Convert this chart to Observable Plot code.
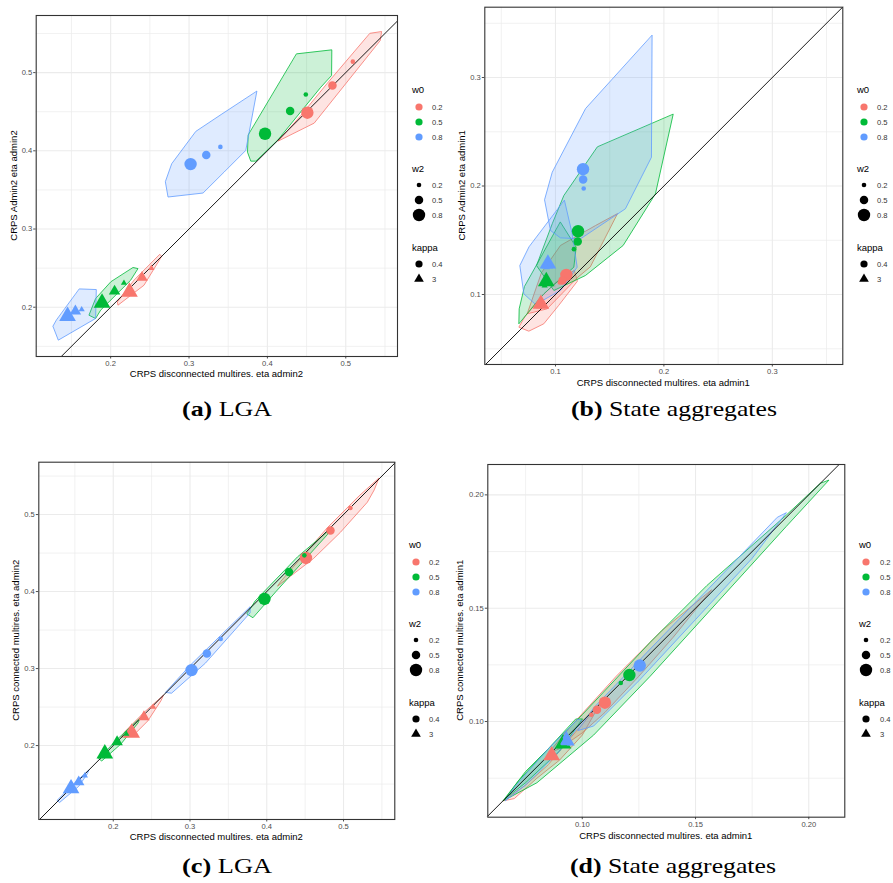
<!DOCTYPE html>
<html><head><meta charset="utf-8">
<script src="https://cdn.jsdelivr.net/npm/d3@7"></script>
<script src="https://cdn.jsdelivr.net/npm/@observablehq/plot@0.6"></script>
<style>
body{margin:0;background:#fff;}
#fig{position:relative;width:893px;height:883px;overflow:hidden;background:#fff;font-family:"Liberation Sans",Arial,sans-serif;}
#fig > svg{position:absolute;}
</style></head><body><div id="fig"></div>
<script>
// ---------- levels ----------
const W0 = ["0.2", "0.5", "0.8"];
const W0_COLORS = ["#F8766D", "#00BA38", "#619CFF"];
const W2 = [0.2, 0.5, 0.8];
const KAPPA = ["0.4", "3"];

// ---------- point factors (18 runs) ----------
const ptW0 = ["0.2","0.2","0.2","0.5","0.5","0.5","0.8","0.8","0.8","0.2","0.2","0.2","0.5","0.5","0.5","0.8","0.8","0.8"];
const ptW2 = [0.2,0.5,0.8,0.2,0.5,0.8,0.2,0.5,0.8,0.2,0.5,0.8,0.2,0.5,0.8,0.2,0.5,0.8];
const ptKappa = ["0.4","0.4","0.4","0.4","0.4","0.4","0.4","0.4","0.4","3","3","3","3","3","3","3","3","3"];

// CRPS disconnected multires (x) at admin2 and admin1
const xAdmin2 = [0.509,0.483,0.451, 0.449,0.429,0.397, 0.340,0.322,0.302, 0.252,0.240,0.224, 0.217,0.205,0.189, 0.163,0.155,0.145];
const xAdmin1 = [0.104,0.1065,0.110, 0.117,0.1205,0.1208, 0.126,0.1255,0.1254, 0.085,0.0855,0.0865, 0.090,0.0912,0.0915, 0.092,0.0925,0.093];
// y values per panel
const yA = [0.514,0.4835,0.4487, 0.472,0.451,0.4218, 0.405,0.3945,0.383, 0.250,0.238,0.2195, 0.231,0.2204,0.2055, 0.197,0.1949,0.1885];
const yB = [0.111,0.1129,0.1181, 0.1418,0.1489,0.1583, 0.1977,0.206,0.2155, 0.089,0.0905,0.0912, 0.108,0.111,0.112, 0.125,0.127,0.1283];
const yC = [0.5086,0.4792,0.4436, 0.447,0.4255,0.3904, 0.3385,0.3195,0.298, 0.250,0.2372,0.2164, 0.215,0.2047,0.1896, 0.161,0.1527,0.1442];
const yD = [0.103,0.1052,0.1083, 0.117,0.1203,0.1205, 0.125,0.1247,0.1247, 0.084,0.0845,0.085, 0.089,0.090,0.0902, 0.0905,0.091,0.0916];

// ---------- hull outlines (w0, kappa, vertices) ----------
const hullsA = [
  {w0:"0.2", kappa:"0.4", pts:[[0.5312,0.5503],[0.5457,0.5525],[0.544,0.541],[0.4597,0.4354],[0.4137,0.4124],[0.4427,0.4452],[0.4759,0.4857]]},
  {w0:"0.2", kappa:"3",   pts:[[0.263,0.2673],[0.2651,0.2651],[0.2425,0.2281],[0.2093,0.2026],[0.2086,0.2068],[0.2298,0.2345]]},
  {w0:"0.5", kappa:"0.4", pts:[[0.4375,0.524],[0.4822,0.5291],[0.4819,0.4963],[0.4682,0.4814],[0.4129,0.4133],[0.3852,0.3868],[0.3788,0.3868],[0.3746,0.3983],[0.3754,0.4197]]},
  {w0:"0.5", kappa:"3",   pts:[[0.229,0.2507],[0.2349,0.2494],[0.2255,0.2345],[0.1872,0.1962],[0.1808,0.1856],[0.1723,0.1898],[0.1808,0.2111],[0.2,0.2323]]},
  {w0:"0.8", kappa:"0.4", pts:[[0.3865,0.4759],[0.3724,0.4005],[0.3448,0.3728],[0.3179,0.346],[0.2732,0.3409],[0.2698,0.3605],[0.2779,0.3835],[0.3086,0.4248],[0.3405,0.4461]]},
  {w0:"0.8", kappa:"3",   pts:[[0.1604,0.2234],[0.1817,0.2226],[0.1808,0.1856],[0.1332,0.1579],[0.1263,0.1757],[0.1306,0.1834]]}
];
const hullsB = [
  {w0:"0.2", kappa:"0.4", pts:[[0.1569,0.1744],[0.137,0.1636],[0.1046,0.1452],[0.087,0.120],[0.0739,0.0822],[0.0923,0.0868],[0.1207,0.116],[0.1318,0.1252]]},
  {w0:"0.2", kappa:"3",   pts:[[0.117,0.122],[0.100,0.111],[0.085,0.096],[0.072,0.080],[0.0662,0.0699],[0.0754,0.0662],[0.0892,0.073],[0.103,0.090],[0.120,0.112]]},
  {w0:"0.5", kappa:"0.4", pts:[[0.2085,0.2659],[0.1922,0.1928],[0.1624,0.1452],[0.1276,0.1175],[0.0985,0.1037],[0.0825,0.1267],[0.097,0.1652],[0.1077,0.1912],[0.1384,0.2358]]},
  {w0:"0.5", kappa:"3",   pts:[[0.1046,0.1666],[0.1191,0.1436],[0.1169,0.1252],[0.0892,0.1006],[0.0662,0.073],[0.0665,0.0868],[0.0714,0.1074],[0.0831,0.1283]]},
  {w0:"0.8", kappa:"0.4", pts:[[0.1891,0.3387],[0.1885,0.2265],[0.1645,0.179],[0.123,0.1513],[0.1046,0.1522],[0.0954,0.159],[0.0899,0.1873],[0.097,0.2127],[0.1276,0.2711]]},
  {w0:"0.8", kappa:"3",   pts:[[0.1083,0.1866],[0.1154,0.156],[0.12,0.1252],[0.1046,0.1037],[0.0816,0.0908],[0.0708,0.1006],[0.0671,0.1267],[0.0754,0.1436]]}
];
const hullsC = [
  {w0:"0.2", kappa:"0.4", pts:[[0.546,0.547],[0.540,0.532],[0.531,0.516],[0.496,0.477],[0.461,0.443],[0.414,0.407],[0.418,0.413],[0.479,0.483],[0.52,0.524]]},
  {w0:"0.2", kappa:"3",   pts:[[0.265,0.265],[0.24,0.243],[0.215,0.218],[0.211,0.211],[0.225,0.212],[0.245,0.232],[0.262,0.258]]},
  {w0:"0.5", kappa:"0.4", pts:[[0.479,0.478],[0.44,0.445],[0.385,0.388],[0.374,0.371],[0.382,0.366],[0.412,0.400],[0.479,0.474]]},
  {w0:"0.5", kappa:"3",   pts:[[0.235,0.236],[0.205,0.208],[0.181,0.183],[0.185,0.180],[0.21,0.202],[0.232,0.229]]},
  {w0:"0.8", kappa:"0.4", pts:[[0.378,0.380],[0.34,0.343],[0.30,0.304],[0.268,0.269],[0.276,0.268],[0.32,0.307],[0.378,0.372]]},
  {w0:"0.8", kappa:"3",   pts:[[0.168,0.168],[0.15,0.152],[0.127,0.129],[0.13,0.126],[0.155,0.147],[0.166,0.163]]}
];
const hullsD = [
  {w0:"0.2", kappa:"0.4", pts:[[0.157,0.158],[0.14,0.137],[0.125,0.120],[0.11,0.104],[0.10,0.095],[0.09,0.088],[0.085,0.086],[0.095,0.098],[0.115,0.12],[0.135,0.14]]},
  {w0:"0.2", kappa:"3",   pts:[[0.108,0.108],[0.10,0.094],[0.09,0.083],[0.08,0.075],[0.07,0.066],[0.065,0.065],[0.075,0.072],[0.085,0.081],[0.095,0.093]]},
  {w0:"0.5", kappa:"0.4", pts:[[0.2088,0.2064],[0.19,0.186],[0.16,0.153],[0.13,0.120],[0.105,0.094],[0.08,0.073],[0.065,0.065],[0.075,0.078],[0.10,0.103],[0.13,0.135],[0.155,0.160],[0.19,0.191],[0.205,0.205]]},
  {w0:"0.5", kappa:"3",   pts:[[0.100,0.101],[0.09,0.087],[0.075,0.073],[0.066,0.066],[0.072,0.074],[0.085,0.088],[0.097,0.101]]},
  {w0:"0.8", kappa:"0.4", pts:[[0.190,0.192],[0.175,0.172],[0.15,0.145],[0.125,0.118],[0.105,0.098],[0.098,0.096],[0.105,0.106],[0.13,0.132],[0.16,0.163],[0.186,0.190]]},
  {w0:"0.8", kappa:"3",   pts:[[0.100,0.100],[0.09,0.087],[0.075,0.072],[0.066,0.065],[0.07,0.071],[0.085,0.088],[0.098,0.101]]}
];

// ---------- axis ticks ----------
const ticksAdmin2 = [0.2, 0.3, 0.4, 0.5];
const minorAdmin2 = [0.15, 0.25, 0.35, 0.45, 0.55];
const ticksB = [0.1, 0.2, 0.3];
const minorB = [0.05, 0.15, 0.25, 0.35];
const ticksD = [0.10, 0.15, 0.20];
const minorD = [0.075, 0.125, 0.175];

// ---------- text ----------
const xTitles = ["CRPS disconnected multires. eta admin2", "CRPS disconnected multires. eta admin1", "CRPS disconnected multires. eta admin2", "CRPS disconnected multires. eta admin1"];
const yTitles = ["CRPS Admin2 eta admin2", "CRPS Admin2 eta admin1", "CRPS connected multires. eta admin2", "CRPS connected multires. eta admin1"];
const capTags = ["(a)", "(b)", "(c)", "(d)"];
const capTexts = ["LGA", "State aggregates", "LGA", "State aggregates"];
const legendTitles = ["w0", "w2", "kappa"];

const R_RANGE = [2.3, 6.2];
const rOf = d3.scaleLinear().domain([0.2, 0.8]).range(R_RANGE);
const colorOf = w => W0_COLORS[W0.indexOf(w)];
const fig = document.getElementById("fig");

function panel(cfg) {
  const rows = cfg.xv.map((x, i) => ({x, y: cfg.yv[i], w0: ptW0[i], w2: ptW2[i], kappa: ptKappa[i]}));
  const lo = Math.max(cfg.xd[0], cfg.yd[0]), hi = Math.min(cfg.xd[1], cfg.yd[1]);
  const diag = [lo, hi];
  const marks = [
    Plot.ruleX(cfg.minor, {stroke: "#EBEBEB", strokeWidth: 0.7}),
    Plot.ruleY(cfg.minor, {stroke: "#EBEBEB", strokeWidth: 0.7}),
    Plot.ruleX(cfg.ticks, {stroke: "#EBEBEB", strokeWidth: 1.1}),
    Plot.ruleY(cfg.ticks, {stroke: "#EBEBEB", strokeWidth: 1.1}),
    ...cfg.hulls.map(h => Plot.line(h.pts, {x: d => d[0], y: d => d[1], curve: "linear-closed",
        fill: colorOf(h.w0), fillOpacity: 0.2, stroke: colorOf(h.w0), strokeWidth: 0.8})),
    Plot.line(diag, {x: d => d, y: d => d, stroke: "#000", strokeWidth: 0.9}),
    Plot.dot(rows, {x: "x", y: "y", fill: "w0", r: "w2", symbol: "kappa"}),
    Plot.frame({stroke: "#333", strokeWidth: 1.1})
  ];
  const svg = Plot.plot({
    width: cfg.width, height: cfg.height,
    marginLeft: cfg.ml, marginTop: cfg.mt, marginRight: 3, marginBottom: 20,
    style: {fontSize: "7.6px", fontFamily: "Liberation Sans, Arial, sans-serif", color: "#4D4D4D", background: "transparent", overflow: "visible"},
    x: {domain: cfg.xd, ticks: cfg.ticks, tickFormat: d3.format(cfg.fmt), tickSize: 2.5, tickPadding: 1.5, label: null},
    y: {domain: cfg.yd, ticks: cfg.ticks, tickFormat: d3.format(cfg.fmt), tickSize: 2.5, tickPadding: 1.5, label: null},
    color: {domain: W0, range: W0_COLORS},
    r: {type: "linear", domain: [0.2, 0.8], range: R_RANGE},
    symbol: {domain: KAPPA, range: ["circle", "triangle"]},
    marks
  });
  svg.style.left = cfg.left + "px";
  svg.style.top = cfg.top + "px";
  fig.appendChild(svg);
}

panel({xv: xAdmin2, yv: yA, hulls: hullsA, xd: [0.105, 0.566], yd: [0.137, 0.573], ticks: ticksAdmin2, minor: minorAdmin2, fmt: ".1f",
  left: 0, top: 0, ml: 35.7, mt: 15, width: 400, height: 376});
panel({xv: xAdmin1, yv: yB, hulls: hullsB, xd: [0.0348, 0.365], yd: [0.0355, 0.3648], ticks: ticksB, minor: minorB, fmt: ".1f",
  left: 440, top: 0, ml: 44.3, mt: 6.7, width: 405.3, height: 384});
panel({xv: xAdmin2, yv: yC, hulls: hullsC, xd: [0.103, 0.5668], yd: [0.104, 0.568], ticks: ticksAdmin2, minor: minorAdmin2, fmt: ".1f",
  left: 0, top: 440, ml: 38.3, mt: 21.7, width: 397.3, height: 399});
panel({xv: xAdmin1, yv: yD, hulls: hullsD, xd: [0.0583, 0.2159], yd: [0.0578, 0.2134], ticks: ticksD, minor: minorD, fmt: ".2f",
  left: 440, top: 440, ml: 47.3, mt: 24, width: 407.3, height: 396.7});

// ---------- overlay: axis titles, legends, captions ----------
const ov = d3.select(fig).append("svg").attr("width", 893).attr("height", 883)
  .style("left", "0px").style("top", "0px").style("pointer-events", "none")
  .style("font-family", "Liberation Sans, Arial, sans-serif");

const xt = [[216.4, 376.5], [663.3, 385.5], [216.3, 840], [665.8, 838.5]];
const yt = [[13.5, 185.5], [462, 185.3], [15.5, 640.3], [460, 640.3]];
xTitles.forEach((t, i) => ov.append("text").attr("x", xt[i][0]).attr("y", xt[i][1]).attr("text-anchor", "middle")
  .attr("font-size", 9.5).attr("fill", "#000").text(t));
yTitles.forEach((t, i) => ov.append("text").attr("transform", `translate(${yt[i][0]},${yt[i][1]}) rotate(-90)`)
  .attr("text-anchor", "middle").attr("dy", "0.35em").attr("font-size", 9.5).attr("fill", "#000").text(yTitles[i]));

function legend(tx, kx, lx, dy) {
  const g = ov.append("g");
  const title = (t, y) => g.append("text").attr("x", tx).attr("y", y + dy).attr("dy", "0.35em").attr("font-size", 9.5).attr("fill", "#000").text(t);
  const label = (t, y) => g.append("text").attr("x", lx).attr("y", y + dy).attr("dy", "0.35em").attr("font-size", 7.6).attr("fill", "#333").text(t);
  title(legendTitles[0], 90);
  W0.forEach((w, i) => { const y = 107 + i * 15;
    g.append("circle").attr("cx", kx).attr("cy", y + dy).attr("r", 3.6).attr("fill", W0_COLORS[i]); label(w, y); });
  title(legendTitles[1], 169);
  W2.forEach((w, i) => { const y = 185 + i * 15;
    g.append("circle").attr("cx", kx).attr("cy", y + dy).attr("r", rOf(w)).attr("fill", "#000"); label(String(w), y); });
  title(legendTitles[2], 248);
  KAPPA.forEach((k, i) => { const y = 264 + i * 15;
    const sym = i === 0 ? d3.symbolCircle : d3.symbolTriangle;
    g.append("path").attr("transform", `translate(${kx},${y + dy})`)
      .attr("d", d3.symbol(sym, Math.PI * 3.6 * 3.6)()).attr("fill", "#000"); label(k, y); });
}
legend(412, 419, 432, 0);
legend(857, 864, 877, 0);
legend(409, 416, 429, 455);
legend(859, 866, 880, 455);

const capPos = [[227, 416], [674, 416], [227, 873], [673, 873]];
const capWidth = [90, 206, 90, 206];
capTags.forEach((tag, i) => {
  const t = ov.append("text").attr("x", capPos[i][0]).attr("y", capPos[i][1]).attr("text-anchor", "middle")
    .attr("font-family", "Liberation Serif, Times New Roman, serif").attr("font-size", 21).attr("fill", "#000")
    .attr("textLength", capWidth[i]).attr("lengthAdjust", "spacingAndGlyphs");
  t.append("tspan").attr("font-weight", "bold").text(tag);
  t.append("tspan").text(" " + capTexts[i]);
});
</script></body></html>
